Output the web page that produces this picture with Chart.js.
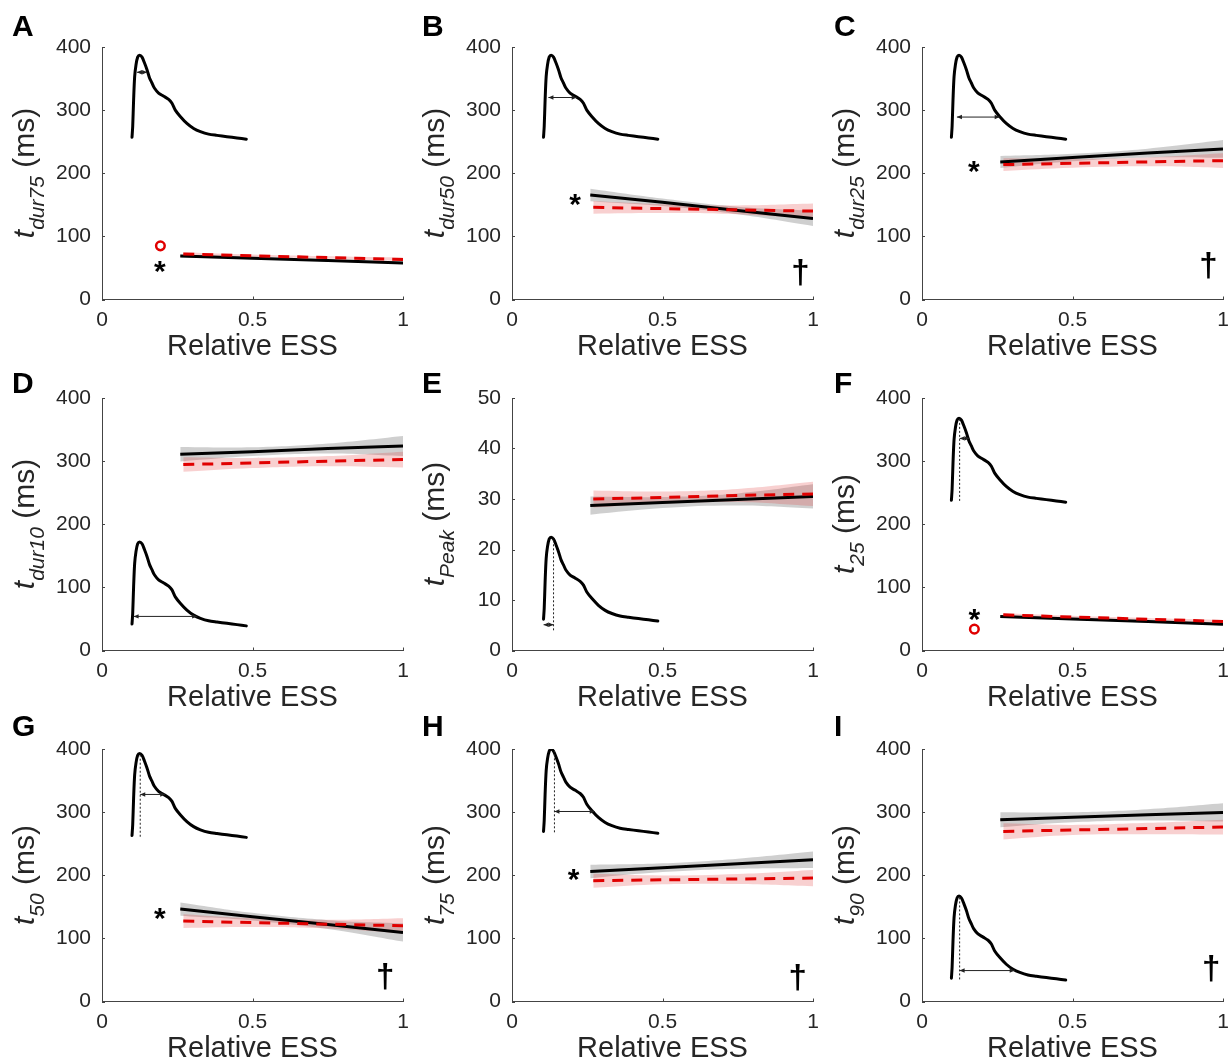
<!DOCTYPE html>
<html>
<head>
<meta charset="utf-8">
<script src="https://cdn.jsdelivr.net/npm/chart.js@4.4.1/dist/chart.umd.min.js"></script>
<style>
html, body { margin: 0; padding: 0; background: #fff; overflow: hidden; }
body { width: 1229px; height: 1061px; position: relative; font-family: "Liberation Sans", Arial, sans-serif; color: #000; }
.cell { position: absolute; width: 410px; height: 364px; }
.cell canvas { position: absolute; left: 0; top: 0; }
.letter { position: absolute; font-weight: bold; font-size: 30px; line-height: 1; }
.ylab { position: absolute; font-size: 30px; line-height: 1; white-space: nowrap; color: #262626;
        transform: translate(-50%, -50%) rotate(-90deg); }
.ylab .sub { font-size: 21px; font-style: italic; position: relative; top: 10px; }
.mark { position: absolute; line-height: 1; color: #000; }
.star { font-size: 30px; font-weight: bold; transform: translate(-50%, -27%); }
.dagger { font-size: 33px; font-weight: bold; transform: translate(-50%, -57%); }
</style>
</head>
<body>
<script>
// panel labels and axes
const letters = ['A', 'B', 'C', 'D', 'E', 'F', 'G', 'H', 'I'];
const ySubs = ['dur75', 'dur50', 'dur25', 'dur10', 'Peak', '25', '50', '75', '90'];
const yMaxes = [400, 400, 400, 400, 50, 400, 400, 400, 400];
const ySteps = [100, 100, 100, 100, 10, 100, 100, 100, 100];
const xTicks = [0, 0.5, 1];

// regression lines (black = solid, red = dashed) and their confidence bands
const blackX = [0.26, 0.5, 0.75, 1.0];
const redX = [0.27, 0.5, 0.75, 1.0];
const blackFit = [
  [68.8, 65.3, 61.7, 58.0],
  [165.6, 154, 141, 128.5],
  [218, 225, 232, 238.6],
  [311, 315, 320, 324],
  [28.7, 29.3, 29.9, 30.5],
  [53.9, 50.0, 45.8, 41.7],
  [146.4, 134.4, 121.9, 109.4],
  [206, 212, 218.3, 224.6],
  [288, 291.8, 295.7, 299.6]
];
const blackBand = [
  [2, 1.5, 1.5, 2],
  [10, 6, 6, 12],
  [9.5, 6, 7, 14],
  [11.5, 7, 8, 16],
  [1.8, 1.1, 1.2, 2.4],
  [2, 1.5, 1.5, 2],
  [10.5, 6, 7, 14.5],
  [10.6, 7, 8, 13],
  [12, 8, 9, 14.5]
];
const redFit = [
  [72, 69.2, 66.4, 63.5],
  [146, 144, 142, 140],
  [213.7, 215.7, 218, 220],
  [294.6, 297, 300, 302.5],
  [30.0, 30.3, 30.7, 31.0],
  [56.5, 53, 49.5, 46],
  [127.4, 125, 122.5, 120],
  [191.3, 192.7, 194.1, 195.5],
  [269.5, 271.7, 274, 276.4]
];
const redBand = [
  [3, 2, 2, 3],
  [10, 7, 7, 12],
  [10, 7, 7, 11.5],
  [11.5, 8, 8, 12.5],
  [1.7, 1.2, 1.3, 2.4],
  [2.5, 2, 2, 2.5],
  [11, 7, 7, 12],
  [11, 7, 8, 13],
  [12.8, 8, 9, 11.7]
];

// inset transient trace (same shape in every panel, rise in 0-400 units)
const insetX = [0.0997, 0.102, 0.105, 0.1085, 0.113, 0.1185, 0.125, 0.133, 0.141, 0.1495, 0.158, 0.166,
  0.174, 0.188, 0.205, 0.2215, 0.2325, 0.2435, 0.26, 0.282, 0.3045, 0.327, 0.354, 0.382, 0.415, 0.4485, 0.4795];
const insetRise = [0, 17, 59, 96, 115, 127, 130, 127, 118, 107, 94, 86, 78, 70, 65, 60, 54, 43, 33, 22, 14, 9, 5, 3, 1, -1, -3];
const insetBase = [257, 257, 257, 42, 6.2, 238, 263, 269.5, 37];
const insetShift = [0, 0.005, -0.002, 0, 0.005, -0.002, 0, 0.005, -0.002];

// double arrows marking each duration, and dotted drop lines at the peak
const arrowY = [360, 320, 289, 54, 5.1, 336, 328, 301, 49];
const arrowX0 = [0.116, 0.116, 0.118, 0.105, 0.100, 0.127, 0.127, 0.136, 0.127];
const arrowX1 = [0.150, 0.210, 0.260, 0.316, 0.133, 0.160, 0.210, 0.270, 0.310];
const dropX = [null, null, null, null, 0.133, 0.127, 0.127, 0.136, 0.127];
const dropY0 = [null, null, null, null, 4, 237, 261, 268, 35];
const dropY1 = [null, null, null, null, 22.3, 367, 393, 399, 166];

// significance marks
const starX = [0.192, 0.21, 0.172, null, null, 0.174, 0.192, 0.205, null];
const starY = [57, 163, 214, null, null, 60.8, 143, 205, null];
const daggerX = [null, 0.958, 0.952, null, null, null, 0.941, 0.949, 0.961];
const daggerY = [null, 40, 52, null, null, null, 37, 35, 50];
const circleX = [0.194, null, null, null, null, 0.174, null, null, null];
const circleY = [85, null, null, null, null, 33.8, null, null, null];

const letterLeft = [12, 422, 834];
const letterTop = [11, 368, 711];
const FONT = '"Liberation Sans", Arial, sans-serif';
const AXIS = '#444';
const TEXT = '#262626';

function pts(xs, ys) { return xs.map((x, k) => ({ x: x, y: ys[k] })); }

const annotate = {
  id: 'annotate',
  afterDatasetsDraw(chart) {
    const i = chart.options.plugins.annotate.panel;
    const ctx = chart.ctx, xs = chart.scales.x, ys = chart.scales.y;
    const a = chart.chartArea;
    ctx.save();
    // inward ticks
    ctx.strokeStyle = AXIS;
    ctx.lineWidth = 1;
    ctx.beginPath();
    xTicks.forEach(v => {
      const px = Math.round(xs.getPixelForValue(v)) + 0.5;
      ctx.moveTo(px, a.bottom); ctx.lineTo(px, a.bottom - 3);
    });
    for (let v = 0; v <= yMaxes[i]; v += ySteps[i]) {
      const py = Math.round(ys.getPixelForValue(v)) + 0.5;
      ctx.moveTo(a.left, py); ctx.lineTo(a.left + 3, py);
    }
    ctx.stroke();

    ctx.strokeStyle = '#222';
    ctx.fillStyle = '#222';
    // dotted drop line
    if (dropX[i] !== null) {
      const px = xs.getPixelForValue(dropX[i] + insetShift[i]);
      ctx.setLineDash([2, 2]);
      ctx.beginPath();
      ctx.moveTo(px, ys.getPixelForValue(dropY0[i]));
      ctx.lineTo(px, ys.getPixelForValue(dropY1[i]));
      ctx.stroke();
      ctx.setLineDash([]);
    }
    // double arrow
    const y = ys.getPixelForValue(arrowY[i]);
    const x0 = xs.getPixelForValue(arrowX0[i] + insetShift[i]);
    const x1 = xs.getPixelForValue(arrowX1[i] + insetShift[i]);
    ctx.beginPath();
    ctx.moveTo(x0, y); ctx.lineTo(x1, y);
    ctx.stroke();
    [[x0, 1], [x1, -1]].forEach(([x, d]) => {
      ctx.beginPath();
      ctx.moveTo(x, y);
      ctx.lineTo(x + d * 5, y - 2.2);
      ctx.lineTo(x + d * 5, y + 2.2);
      ctx.closePath();
      ctx.fill();
    });
    ctx.restore();
  }
};

letters.forEach((letter, i) => {
  const col = i % 3, row = Math.floor(i / 3);
  const cellLeft = col * 410, cellTop = row * 351;
  const cell = document.createElement('div');
  cell.className = 'cell';
  cell.style.left = cellLeft + 'px';
  cell.style.top = cellTop + 'px';
  const canvas = document.createElement('canvas');
  canvas.width = 410; canvas.height = 364;
  cell.appendChild(canvas);
  document.body.appendChild(cell);

  const k = yMaxes[i] / 400;
  const insetY = insetRise.map(r => insetBase[i] + r * k);
  const insetXs = insetX.map(x => x + insetShift[i]);

  const datasets = [
    { data: pts(blackX, blackFit[i].map((v, j) => v + blackBand[i][j])), fill: '+1',
      backgroundColor: 'rgba(110,110,110,0.33)', borderWidth: 0, pointRadius: 0, tension: 0.4, order: 5 },
    { data: pts(blackX, blackFit[i].map((v, j) => v - blackBand[i][j])), fill: false,
      borderWidth: 0, pointRadius: 0, tension: 0.4, order: 5 },
    { data: pts(redX, redFit[i].map((v, j) => v + redBand[i][j])), fill: '+1',
      backgroundColor: 'rgba(225,40,40,0.22)', borderWidth: 0, pointRadius: 0, tension: 0.4, order: 4 },
    { data: pts(redX, redFit[i].map((v, j) => v - redBand[i][j])), fill: false,
      borderWidth: 0, pointRadius: 0, tension: 0.4, order: 4 },
    { data: pts(blackX, blackFit[i]), borderColor: '#000', borderWidth: 3, pointRadius: 0, order: 3 },
    { data: pts(redX, redFit[i]), borderColor: '#e00000', borderWidth: 3, borderDash: [11, 8],
      pointRadius: 0, order: 2 },
    { data: pts(insetXs, insetY), borderColor: '#000', borderWidth: 3, pointRadius: 0,
      tension: 0.3, borderJoinStyle: 'round', borderCapStyle: 'round', order: 1 }
  ];
  if (circleX[i] !== null) {
    datasets.push({ type: 'scatter', data: [{ x: circleX[i], y: circleY[i] }], pointStyle: 'circle',
      pointRadius: 4.3, borderColor: '#e00000', borderWidth: 2.5, backgroundColor: 'rgba(0,0,0,0)', order: 0 });
  }

  const chart = new Chart(canvas, {
    type: 'line',
    data: { datasets: datasets },
    plugins: [annotate],
    options: {
      responsive: false,
      animation: false,
      events: [],
      layout: { padding: { top: 47, right: 7, left: 0, bottom: 0 } },
      plugins: { legend: { display: false }, tooltip: { enabled: false }, annotate: { panel: i } },
      scales: {
        x: {
          type: 'linear', min: 0, max: 1,
          afterBuildTicks: s => { s.ticks = xTicks.map(v => ({ value: v })); },
          ticks: { padding: 0, color: TEXT, font: { family: FONT, size: 21 }, callback: v => String(v) },
          grid: { display: false },
          border: { color: AXIS, width: 1 },
          title: { display: true, text: 'Relative ESS', color: TEXT, padding: 0,
                   font: { family: FONT, size: 29 } },
          afterFit: s => { s.height = 64.5; }
        },
        y: {
          type: 'linear', min: 0, max: yMaxes[i],
          ticks: { stepSize: ySteps[i], padding: 3, color: TEXT, font: { family: FONT, size: 21 } },
          grid: { display: false },
          border: { color: AXIS, width: 1 },
          afterFit: s => { s.width = 102; }
        }
      }
    }
  });

  const xs = chart.scales.x, ys = chart.scales.y;

  const lt = document.createElement('div');
  lt.className = 'letter';
  lt.textContent = letter;
  lt.style.left = letterLeft[col] + 'px';
  lt.style.top = letterTop[row] + 'px';
  document.body.appendChild(lt);

  const yl = document.createElement('div');
  yl.className = 'ylab';
  yl.innerHTML = '<i>t</i><span class="sub">' + ySubs[i] + '</span> (ms)';
  yl.style.left = (cellLeft + 24) + 'px';
  yl.style.top = (cellTop + (chart.chartArea.top + chart.chartArea.bottom) / 2) + 'px';
  document.body.appendChild(yl);

  function mark(cls, txt, x, y) {
    const m = document.createElement('div');
    m.className = 'mark ' + cls;
    m.textContent = txt;
    m.style.left = (cellLeft + xs.getPixelForValue(x)) + 'px';
    m.style.top = (cellTop + ys.getPixelForValue(y)) + 'px';
    document.body.appendChild(m);
  }
  if (starX[i] !== null) mark('star', '*', starX[i], starY[i]);
  if (daggerX[i] !== null) mark('dagger', '\u2020', daggerX[i], daggerY[i]);
});
</script>
</body>
</html>
